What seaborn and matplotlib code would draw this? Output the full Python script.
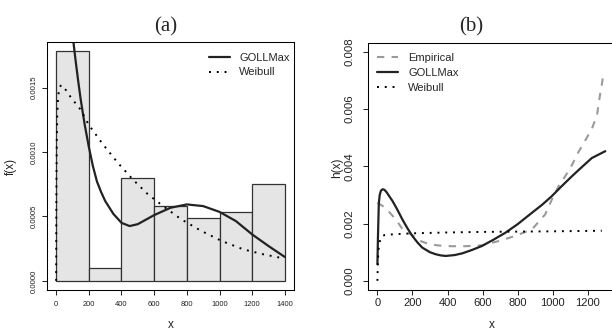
import numpy as np
import pandas as pd
import matplotlib
matplotlib.use("Agg")
import matplotlib.pyplot as plt
import seaborn as sns
from matplotlib.lines import Line2D

# ---------------- data ----------------
# panel (a): histogram (density) + fitted densities
hist_edges = [0, 200, 400, 600, 800, 1000, 1200, 1400]
hist_mids = [100, 300, 500, 700, 900, 1100, 1300]
hist_density = [0.00178, 0.000096, 0.00080, 0.00058, 0.00049, 0.000535, 0.000755]

goll_a_x = [90, 106, 120, 135, 150, 175, 200, 225, 250, 275, 300, 350, 400, 450,
            500, 600, 700, 800, 900, 1000, 1100, 1200, 1300, 1400]
goll_a_y = [0.00205, 0.00185, 0.00170, 0.00155, 0.00141, 0.00121, 0.00104, 0.00089,
            0.00077, 0.00069, 0.00062, 0.00052, 0.00045, 0.000425, 0.00044, 0.00051,
            0.000567, 0.000593, 0.00058, 0.000535, 0.000464, 0.00036, 0.00027, 0.000185]

weib_a_x = [0, 1, 2, 4, 7, 12, 20, 31, 60, 92, 149, 200, 286, 378, 470, 562, 654,
            766, 889, 1012, 1144, 1267, 1400]
weib_a_y = [0.0, 0.0005, 0.0008, 0.0011, 0.0013, 0.00143, 0.00150, 0.00152, 0.00148,
            0.00142, 0.00133, 0.00121, 0.00106, 0.000915, 0.000786, 0.000671, 0.000581,
            0.000477, 0.000387, 0.000310, 0.000245, 0.000206, 0.000172]

# panel (b): hazard functions
emp_b_x = [0, 47, 104, 150, 199, 250, 300, 360, 420, 500, 597, 692, 787, 882, 957,
           995, 1033, 1071, 1110, 1147, 1185, 1223, 1253, 1270, 1284, 1288]
emp_b_y = [0.00273, 0.00255, 0.00215, 0.00175, 0.00160, 0.00138, 0.00127, 0.00123,
           0.00121, 0.00121, 0.00124, 0.00139, 0.00157, 0.00180, 0.00232, 0.00284,
           0.00330, 0.00365, 0.00405, 0.00450, 0.00490, 0.00530, 0.00580, 0.00650,
           0.00700, 0.00725]

goll_b_x = [0, 3, 8, 13, 20, 30, 40, 52, 65, 85, 110, 142, 170, 199, 230, 256, 300,
            332, 360, 389, 440, 484, 540, 597, 660, 730, 800, 882, 940, 995, 1050,
            1109, 1160, 1223, 1300]
goll_b_y = [0.00058, 0.0015, 0.0027, 0.0030, 0.00315, 0.00320, 0.00318, 0.00310,
            0.00298, 0.00280, 0.00253, 0.00215, 0.00185, 0.00157, 0.00133, 0.00116,
            0.00100, 0.00093, 0.00089, 0.00087, 0.00090, 0.00096, 0.00108, 0.00122,
            0.00143, 0.00168, 0.00198, 0.00238, 0.00266, 0.00296, 0.00330, 0.00365,
            0.00394, 0.00429, 0.00453]

weib_b_x = [0, 2, 5, 10, 20, 40, 100, 200, 400, 600, 800, 1000, 1280]
weib_b_y = [0.0, 0.0005, 0.0010, 0.0013, 0.00152, 0.00160, 0.00163, 0.00166, 0.00169,
            0.00171, 0.00172, 0.00173, 0.00175]

xticks_a = [0, 200, 400, 600, 800, 1000, 1200, 1400]
yticks_a = [0.0, 0.0005, 0.0010, 0.0015]
ytick_labels_a = ["0.0000", "0.0005", "0.0010", "0.0015"]
xticks_b = [0, 200, 400, 600, 800, 1000, 1200]
yticks_b = [0.0, 0.002, 0.004, 0.006, 0.008]
ytick_labels_b = ["0.000", "0.002", "0.004", "0.006", "0.008"]

legend_a = ["GOLLMax", "Weibull"]
legend_b = ["Empirical", "GOLLMax", "Weibull"]

# ---------------- style ----------------
sns.set_theme(style="ticks")
plt.rcParams['font.family'] = ['Liberation Sans', 'DejaVu Sans']
plt.rcParams['axes.linewidth'] = 0.75
plt.rcParams['axes.edgecolor'] = '#000000'

W, H = 612, 329
fig = plt.figure(figsize=(W / 100, H / 100), dpi=100)
fig.patch.set_facecolor('white')


def add_ax(l, t, r, b):
    return fig.add_axes([l / W, 1 - b / H, (r - l) / W, (b - t) / H])


DARK = '#222222'
GRAY = '#9a9a9a'
dotted = (0, (1, 3))

# ---------------- panel (a) ----------------
axA = add_ax(47, 42.3, 294, 290)
sns.histplot(x=hist_mids, weights=hist_density, bins=hist_edges, stat='count',
             color='#e5e5e5', edgecolor='#333333', linewidth=0.9, alpha=1,
             ax=axA)
sns.lineplot(x=goll_a_x, y=goll_a_y, ax=axA, color=DARK, lw=1.6,
             errorbar=None, sort=False)
sns.lineplot(x=weib_a_x, y=weib_a_y, ax=axA, color='black', lw=1.4,
             linestyle=dotted, errorbar=None, sort=False)
axA.set_xlim(-56, 1456)
axA.set_ylim(-0.0000712, 0.0018512)
axA.set_xticks(xticks_a)
axA.set_xticklabels([str(v) for v in xticks_a], fontsize=5.4, color='#222222')
axA.set_yticks(yticks_a)
axA.set_yticklabels(ytick_labels_a, rotation=90, va='center', fontsize=5.6,
                    color='#222222')
axA.tick_params(axis='x', direction='out', length=3.6, width=0.75, pad=4.3)
axA.tick_params(axis='y', direction='out', length=3.6, width=0.75, pad=3.0)
axA.set_xlabel('')
axA.set_ylabel('')
for s in axA.spines.values():
    s.set_visible(True)
    s.set_linewidth(0.75)

hA = [Line2D([], [], color=DARK, lw=1.6),
      Line2D([], [], color='black', lw=1.4, linestyle=dotted)]
axA.legend(hA, legend_a, loc='upper left', bbox_to_anchor=(209 / W, 1 - 53 / H),
           bbox_transform=fig.transFigure, frameon=False, fontsize=8,
           handlelength=1.9, handletextpad=0.8, borderpad=0, borderaxespad=0,
           labelspacing=0.4)

# ---------------- panel (b) ----------------
axB = add_ax(368.3, 42.7, 614.4, 290)
sns.lineplot(x=emp_b_x, y=emp_b_y, ax=axB, color=GRAY, lw=1.5,
             linestyle=(0, (3.5, 3.5)), errorbar=None, sort=False)
sns.lineplot(x=goll_b_x, y=goll_b_y, ax=axB, color=DARK, lw=1.6,
             errorbar=None, sort=False)
sns.lineplot(x=weib_b_x, y=weib_b_y, ax=axB, color='black', lw=1.4,
             linestyle=dotted, errorbar=None, sort=False)
axB.set_xlim(-52, 1352)
axB.set_ylim(-0.00032, 0.00832)
axB.set_xticks(xticks_b)
axB.set_xticklabels([str(v) for v in xticks_b], fontsize=8, color='#222222')
axB.set_yticks(yticks_b)
axB.set_yticklabels(ytick_labels_b, rotation=90, va='center', fontsize=8.2,
                    color='#222222')
axB.tick_params(axis='x', direction='out', length=3.6, width=0.75, pad=2.5)
axB.tick_params(axis='y', direction='out', length=3.6, width=0.75, pad=6.0)
axB.set_xlabel('')
axB.set_ylabel('')
for s in axB.spines.values():
    s.set_visible(True)
    s.set_linewidth(0.75)

hB = [Line2D([], [], color=GRAY, lw=1.5, linestyle=(0, (3.5, 3.5))),
      Line2D([], [], color=DARK, lw=1.6),
      Line2D([], [], color='black', lw=1.4, linestyle=dotted)]
axB.legend(hB, legend_b, loc='upper left', bbox_to_anchor=(376.7 / W, 1 - 53 / H),
           bbox_transform=fig.transFigure, frameon=False, fontsize=8,
           handlelength=1.9, handletextpad=0.95, borderpad=0, borderaxespad=0,
           labelspacing=0.45)

# ---------------- titles and axis labels ----------------
serif = ['Liberation Serif', 'DejaVu Serif']
fig.text(165.7 / W, 1 - 26.7 / H, '(a)', ha='center', va='center', fontsize=15,
         family=serif)
fig.text(470.8 / W, 1 - 26.7 / H, '(b)', ha='center', va='center', fontsize=15,
         family=serif)
fig.text(170.5 / W, 1 - 327.5 / H, 'x', ha='center', va='baseline', fontsize=8.5,
         color='#222222')
fig.text(491.5 / W, 1 - 327.5 / H, 'x', ha='center', va='baseline', fontsize=8.5,
         color='#222222')
fig.text(10.7 / W, 1 - 166 / H, 'f(x)', ha='center', va='center', rotation=90,
         fontsize=8.5, color='#222222')
fig.text(336.7 / W, 1 - 168 / H, 'h(x)', ha='center', va='center', rotation=90,
         fontsize=8.5, color='#222222')

fig.savefig('out.png', dpi=100, facecolor='white')
